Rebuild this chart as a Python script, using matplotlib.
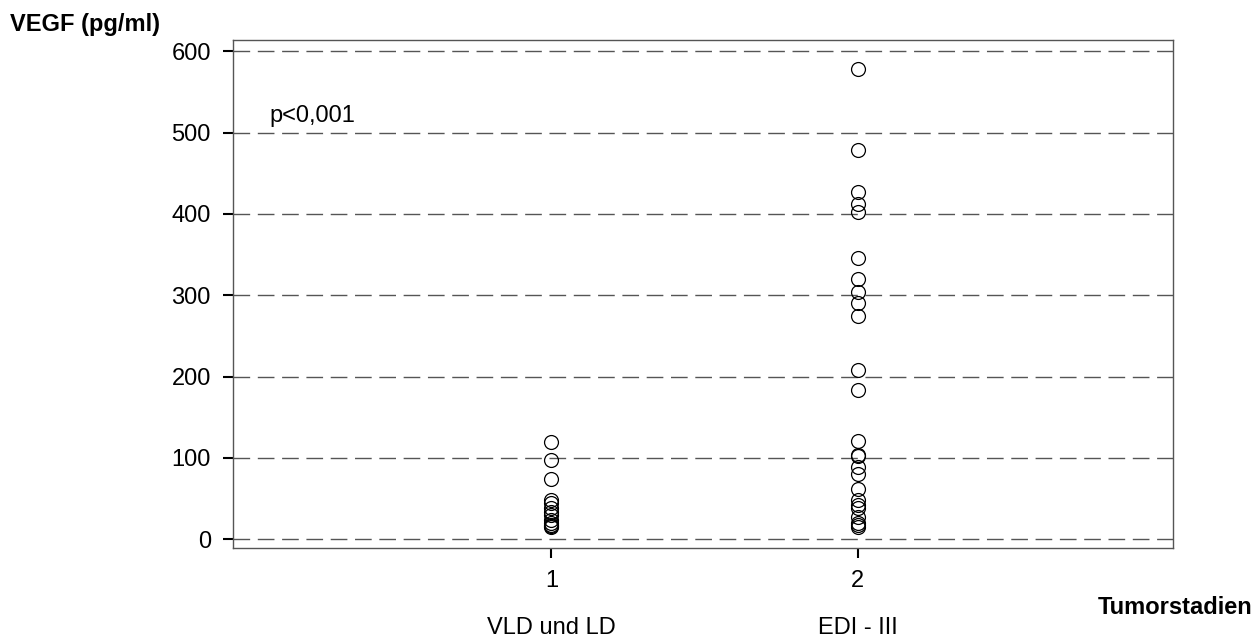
import matplotlib
matplotlib.use("Agg")
import matplotlib.pyplot as plt

plt.rcParams['font.family'] = ['Liberation Sans', 'DejaVu Sans']

group_positions = [1, 2]
group_labels = ["VLD und LD", "EDI - III"]
vegf_group1 = [119, 97, 74, 48, 44, 38, 33, 29, 24, 20, 17, 16, 15]
vegf_group2 = [578, 479, 427, 412, 402, 346, 320, 304, 291, 274, 208, 184,
               121, 104, 102, 89, 80, 61, 48, 42, 38, 27, 20, 17, 15]
y_ticks = [0, 100, 200, 300, 400, 500, 600]

FS = 17

fig = plt.figure(figsize=(12.58, 6.39), dpi=100)
ax = fig.add_axes([0.1852, 0.1424, 0.7472, 0.795])

for y in y_ticks:
    ax.axhline(y, color='#555555', lw=1.0, dashes=(12, 5.5), zorder=1)

ax.plot([group_positions[0]] * len(vegf_group1), vegf_group1, 'o', mfc='none',
        mec='black', ms=10, mew=0.9, zorder=3)
ax.plot([group_positions[1]] * len(vegf_group2), vegf_group2, 'o', mfc='none',
        mec='black', ms=10, mew=0.9, zorder=3)

ax.set_xlim(-0.04, 3.03)
ax.set_ylim(-11, 614)
ax.set_yticks(y_ticks)
ax.set_yticklabels([str(v) for v in y_ticks], fontsize=FS)
ax.set_xticks(group_positions)
ax.set_xticklabels([str(p) for p in group_positions], fontsize=FS)
ax.tick_params(axis='y', direction='out', length=7, width=1.5, pad=9)
ax.tick_params(axis='x', direction='out', length=7, width=1.5, pad=9)

for sp in ax.spines.values():
    sp.set_color('#555555')
    sp.set_linewidth(1.0)

ax.text(0.08, 521, "p<0,001", fontsize=FS, ha='left', va='center')

for p, lab in zip(group_positions, group_labels):
    ax.annotate(lab, xy=(p, 0), xycoords=('data', 'axes fraction'),
                xytext=(0, -80), textcoords='offset pixels',
                ha='center', va='center', fontsize=FS)

fig.text(10 / 1258, 1 - 25 / 639, "VEGF (pg/ml)", fontsize=FS, fontweight='bold',
         ha='left', va='center')
fig.text(1252 / 1258, 1 - 607 / 639, "Tumorstadien", fontsize=FS, fontweight='bold',
         ha='right', va='center')

fig.savefig("out.png", dpi=100)
